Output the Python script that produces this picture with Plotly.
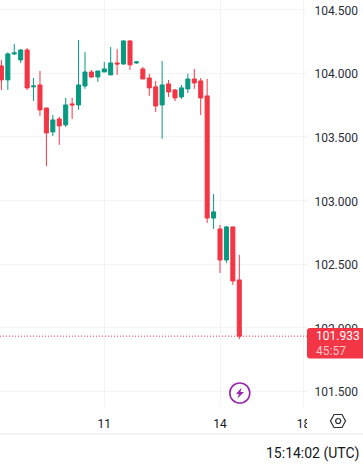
import plotly.graph_objects as go

W, H = 363, 471
PLOT_W, PLOT_H = 307, 406

idx = list(range(38))
opens = [104.058, 103.948, 104.152, 104.105, 104.183, 103.893, 103.908, 103.727, 103.539, 103.641,
         103.594, 103.759, 103.751, 103.900, 104.010, 103.971, 104.010, 103.987, 104.081, 104.073,
         104.254, 104.081, 104.034, 103.963, 103.893, 103.751, 103.916, 103.869, 103.814, 103.877,
         103.955, 103.940, 103.822, 102.862, 102.776, 102.532, 102.792, 102.375]
closes = [103.948, 104.152, 104.160, 104.183, 103.885, 103.900, 103.712, 103.531, 103.633, 103.586,
          103.751, 103.751, 103.908, 104.010, 103.971, 104.018, 104.034, 104.081, 104.073, 104.254,
          104.066, 104.089, 103.955, 103.885, 103.743, 103.908, 103.853, 103.806, 103.885, 103.955,
          103.924, 103.806, 102.862, 102.910, 102.532, 102.792, 102.367, 101.933]
highs = [104.105, 104.165, 104.231, 104.191, 104.199, 103.963, 104.018, 103.727, 103.672, 103.657,
         103.806, 103.806, 104.262, 104.168, 104.026, 104.018, 104.089, 104.207, 104.191, 104.262,
         104.262, 104.097, 104.050, 103.995, 103.940, 104.097, 103.948, 103.877, 103.908, 103.995,
         104.034, 103.963, 103.955, 103.051, 102.807, 102.800, 102.792, 102.572]
lows = [103.869, 103.869, 104.144, 104.081, 103.869, 103.782, 103.665, 103.271, 103.507, 103.437,
        103.578, 103.641, 103.712, 103.877, 103.963, 103.932, 104.010, 103.987, 103.987, 104.066,
        104.026, 104.073, 103.955, 103.822, 103.696, 103.484, 103.814, 103.782, 103.798, 103.845,
        103.877, 103.672, 102.823, 102.776, 102.430, 102.509, 102.336, 101.910]

x_ticks = [16, 34, 47]
x_labels = ["11", "14", "18"]
y_ticks = [101.5, 102.0, 102.5, 103.0, 103.5, 104.0, 104.5]
y_labels = ["101.500", "102.000", "102.500", "103.000", "103.500", "104.000", "104.500"]
last_price = 101.933
countdown = "45:57"
clock = "15:14:02 (UTC)"

GREEN, RED, GRID, PURPLE = "#089981", "#F23645", "#F3F3F3", "#9C27B0"
FONT = "Roboto"
TXT = "#131722"


def px(x):
    return x / PLOT_W


def py(y):
    return 1 - y / PLOT_H


def pth(points):
    return "M" + " L".join(f"{px(a):.5f},{py(b):.5f}" for a, b in points) + " Z"


fig = go.Figure(go.Candlestick(
    x=idx, open=opens, high=highs, low=lows, close=closes,
    increasing=dict(line=dict(color=GREEN, width=1), fillcolor=GREEN),
    decreasing=dict(line=dict(color=RED, width=1), fillcolor=RED),
    whiskerwidth=0, hoverinfo="skip",
))

shapes = [
    dict(type="line", xref="x", yref="y", x0=-0.22, x1=47.53, y0=last_price, y1=last_price,
         line=dict(color=RED, width=1, dash="1px,2px"), layer="above"),
    # panel covers and separators
    dict(type="rect", xref="paper", yref="paper", x0=px(307), x1=px(W), y0=py(434), y1=py(406),
         fillcolor="white", line_width=0, layer="above"),
    dict(type="line", xref="paper", yref="paper", x0=0, x1=px(W), y0=py(434), y1=py(434),
         line=dict(color="#E0E3EB", width=1), layer="above"),
    dict(type="path", xref="paper", yref="paper",
         path=(f"M{px(307)},{py(331)} Q{px(307)},{py(328)} {px(310)},{py(328)} "
               f"L{px(W)},{py(328)} L{px(W)},{py(358.5)} L{px(310)},{py(358.5)} "
               f"Q{px(307)},{py(358.5)} {px(307)},{py(355.5)} Z"),
         fillcolor=RED, line_width=0, layer="above"),
    # lightning badge
    dict(type="circle", xref="paper", yref="paper", x0=px(229.8), x1=px(249.8), y0=py(403), y1=py(383),
         line=dict(color=PURPLE, width=1.6), fillcolor="white", layer="above"),
    dict(type="path", xref="paper", yref="paper",
         path=pth([(241.5, 387.5), (236, 394), (239, 394), (237.5, 398.5), (244, 392), (240.5, 392)]),
         fillcolor=PURPLE, line_width=0, layer="above"),
    # settings hexagon
    dict(type="path", xref="paper", yref="paper",
         path=pth([(334, 414.5), (342, 414.5), (345.5, 421), (342, 427.5), (334, 427.5), (330.5, 421)]),
         line=dict(color="#2A2E39", width=1.2), fillcolor="white", layer="above"),
    dict(type="circle", xref="paper", yref="paper", x0=px(335.7), x1=px(340.7), y0=py(423.5), y1=py(418.5),
         line=dict(color="#2A2E39", width=1.2), fillcolor="white", layer="above"),
]

annotations = [
    dict(xref="paper", yref="paper", x=px(314), y=py(336), text=f"{last_price:.3f}", showarrow=False,
         xanchor="left", yanchor="middle", font=dict(family=FONT, size=12, color="white")),
    dict(xref="paper", yref="paper", x=px(314), y=py(351), text=countdown, showarrow=False,
         xanchor="left", yanchor="middle", font=dict(family=FONT, size=12, color="#FBC4C9")),
    dict(xref="paper", yref="paper", x=px(361), y=py(453), text=clock, showarrow=False,
         xanchor="right", yanchor="middle", font=dict(family=FONT, size=14, color=TXT)),
]

fig.update_layout(
    width=W, height=H, autosize=False,
    margin=dict(l=0, r=W - PLOT_W, t=0, b=H - PLOT_H, pad=0),
    paper_bgcolor="white", plot_bgcolor="white",
    showlegend=False, boxgap=0.1,
    shapes=shapes, annotations=annotations,
    font=dict(family=FONT, size=12, color=TXT),
    xaxis=dict(range=[-0.218, 47.53], tickmode="array", tickvals=x_ticks, ticktext=x_labels,
               showgrid=True, gridcolor=GRID, gridwidth=1, zeroline=False, showline=False,
               rangeslider=dict(visible=False), ticks="outside", ticklen=7, tickcolor="white",
               tickfont=dict(family=FONT, size=12, color=TXT)),
    yaxis=dict(range=[101.384, 104.576], side="right", tickmode="array", tickvals=y_ticks, ticktext=y_labels,
               showgrid=True, gridcolor=GRID, gridwidth=1, zeroline=False, showline=False,
               ticks="outside", ticklen=4, tickcolor="white", ticklabelshift=1,
               tickfont=dict(family=FONT, size=12, color="#2A2E39")),
)

fig.write_html("out.html", config=dict(displayModeBar=False),
               default_width=W, default_height=H,
               post_script="document.body.style.margin='0';document.body.style.overflow='hidden';")
